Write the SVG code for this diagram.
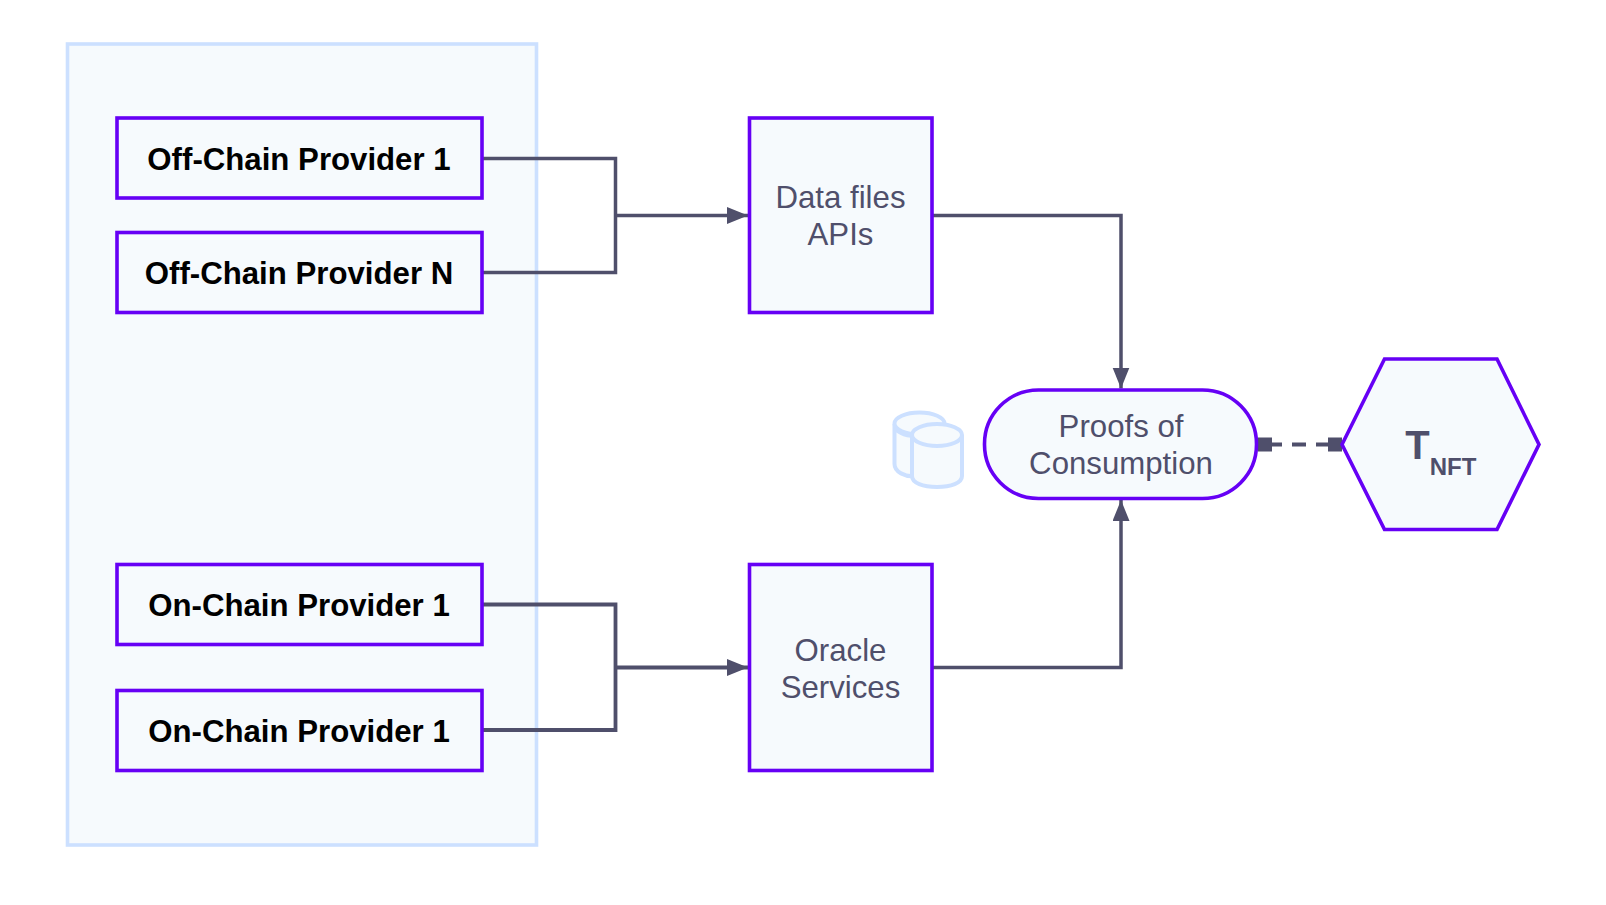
<svg xmlns="http://www.w3.org/2000/svg" width="1606" height="905" viewBox="0 0 1606 905">
<style>
text{font-family:"Liberation Sans",Arial,sans-serif;text-anchor:middle}
.n{fill:#f6fafd;stroke:#6600f5;stroke-width:3.6}
.b{font-size:31.200px;font-weight:bold;fill:#000}
.l{font-size:31.200px;fill:#4f4f6b}
.c{fill:none;stroke:#4f4f6b;stroke-width:3.500}
.cy{fill:#f6fafd;stroke:#cce0ff;stroke-width:4}
</style>
<defs>
<marker id="a" markerUnits="userSpaceOnUse" markerWidth="22" markerHeight="18" refX="21" refY="8.5" orient="auto"><path d="M0 0L21 8.5L0 17z" fill="#4f4f6b"/></marker>
</defs>
<rect width="1606" height="905" fill="#fff"/>
<g id="frame"><rect x="67.5" y="44" width="469" height="801" fill="#f6fafd" stroke="#cce0ff" stroke-width="3.600"/></g>
<g id="connectors">
<path class="c" d="M482 158.500H615.500V272.500H482M615.500 215.500H748" marker-end="url(#a)"/>
<path class="c" d="M482 604.500H615.500V730H482M615.500 667.500H748" marker-end="url(#a)" style="stroke-width:3.800"/>
<path class="c" d="M933 215.500H1121V388.500" marker-end="url(#a)"/>
<path class="c" d="M933 667.500H1121V500" marker-end="url(#a)"/>
<path class="c" d="M1265 444.500H1335" stroke-dasharray="14 10" stroke-dashoffset="-3" style="stroke-width:4"/>
<rect x="1258" y="437.500" width="14" height="14" fill="#4f4f6b"/>
<rect x="1328" y="437.500" width="14" height="14" fill="#4f4f6b"/>
</g>
<g id="off1"><rect class="n" x="117" y="118" width="365" height="80"/><text class="b" x="299" y="170">Off-Chain Provider 1</text></g>
<g id="offn"><rect class="n" x="117" y="232.500" width="365" height="80"/><text class="b" x="299" y="284">Off-Chain Provider N</text></g>
<g id="on1"><rect class="n" x="117" y="564.500" width="365" height="80"/><text class="b" x="299" y="616">On-Chain Provider 1</text></g>
<g id="on2"><rect class="n" x="117" y="690.500" width="365" height="80"/><text class="b" x="299" y="742">On-Chain Provider 1</text></g>
<g id="data"><rect class="n" x="749.500" y="118" width="182.500" height="194.500"/><text class="l" x="840.500" y="208">Data files</text><text class="l" x="840.500" y="245">APIs</text></g>
<g id="oracle"><rect class="n" x="749.500" y="564.500" width="182.500" height="206"/><text class="l" x="840.500" y="661">Oracle</text><text class="l" x="840.500" y="698">Services</text></g>
<g id="proofs"><rect class="n" x="984.500" y="390" width="272" height="108.500" rx="54" ry="54"/><text class="l" x="1121" y="437">Proofs of</text><text class="l" x="1121" y="474">Consumption</text></g>
<g id="tnft"><path class="n" d="M1342 444.500L1384.500 359H1497L1539 444.500L1497 529.500H1384.500Z"/><text x="1417.500" y="459" font-size="40" font-weight="bold" fill="#4f4f6b">T</text><text x="1453" y="475" font-size="24" font-weight="bold" fill="#4f4f6b">NFT</text></g>
<g id="db"><path class="cy" d="M894.500 424V464C894.500 472 905 477 915 476V436C905 436 894.500 432 894.500 424Z"/><ellipse class="cy" cx="919.500" cy="423.500" rx="25" ry="11"/><path class="cy" d="M912 435V476C912 483 923 487 937 487S962 483 962 476V435"/><ellipse class="cy" cx="937" cy="435" rx="25" ry="11"/></g>
</svg>
